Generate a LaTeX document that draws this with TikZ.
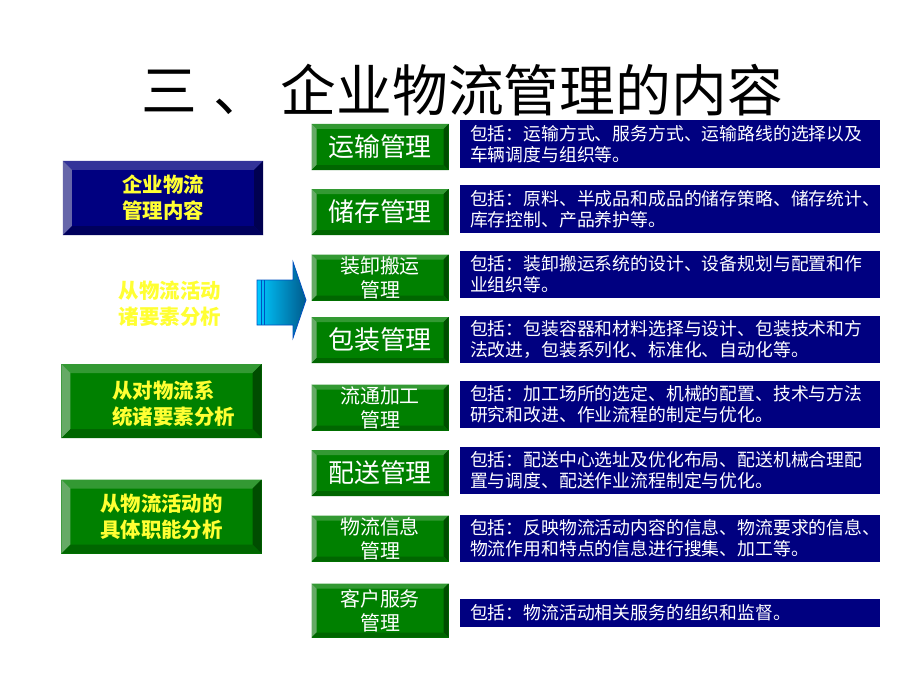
\documentclass[tikz,border=0pt]{standalone}
\usepackage{fontspec}
\newfontfamily\cjk{Noto Sans CJK SC}
\definecolor{navyface}{HTML}{000080}
\definecolor{navytop}{HTML}{333399}
\definecolor{navyleft}{HTML}{6666AA}
\definecolor{navyright}{HTML}{000050}
\definecolor{navybottom}{HTML}{00005C}
\definecolor{grnface}{HTML}{008000}
\definecolor{grntop}{HTML}{339933}
\definecolor{grnleft}{HTML}{66AA66}
\definecolor{grnright}{HTML}{004D00}
\definecolor{grnbottom}{HTML}{006600}
\definecolor{hintyellow}{HTML}{FFFF33}
\definecolor{arrowcyan}{HTML}{00C8FF}
\definecolor{arrowteal}{HTML}{005A8C}
\definecolor{arrowedge}{HTML}{0050C0}
% the four slanted faces of a bevelled button
\newcommand\bevelfaces[2]{%
  \fill[#1top] (path picture bounding box.north west) -- (path picture bounding box.north east)
    -- ([shift={(-#2,-#2)}]path picture bounding box.north east) -- ([shift={(#2,-#2)}]path picture bounding box.north west) -- cycle;
  \fill[#1left] (path picture bounding box.north west) -- (path picture bounding box.south west)
    -- ([shift={(#2,#2)}]path picture bounding box.south west) -- ([shift={(#2,-#2)}]path picture bounding box.north west) -- cycle;
  \fill[#1right] (path picture bounding box.north east) -- (path picture bounding box.south east)
    -- ([shift={(-#2,#2)}]path picture bounding box.south east) -- ([shift={(-#2,-#2)}]path picture bounding box.north east) -- cycle;
  \fill[#1bottom] (path picture bounding box.south west) -- (path picture bounding box.south east)
    -- ([shift={(-#2,#2)}]path picture bounding box.south east) -- ([shift={(#2,#2)}]path picture bounding box.south west) -- cycle;
}
\tikzset{
  bevelbox/.style 2 args={fill=#1face, path picture={\bevelfaces{#1}{#2}}, inner sep=0pt},
  sidefont/.style={text=hintyellow, font=\cjk\bfseries\fontsize{20.5}{26}\selectfont},
  sidebox/.style={bevelbox={#1}{9bp}, minimum width=200bp, minimum height=74bp,
    align=center, sidefont},
  taskbox/.style={bevelbox={grn}{5bp}, minimum width=137bp, minimum height=46bp,
    text=white, align=center, font=\cjk\fontsize{26}{30}\selectfont},
  tasktwo/.style={font=\cjk\fontsize{20}{24}\selectfont},
  notebox/.style={fill=navyface, minimum height=47bp, text width=400bp, inner xsep=10bp,
    inner ysep=0pt, text=white, align=left, font=\cjk\fontsize{17.9}{21}\selectfont}
}
\begin{document}
\begin{tikzpicture}[x=1bp,y=-1bp]
  \useasboundingbox[fill=white] (0,0) rectangle (920,690);
  % Title
  \node[font=\cjk\fontsize{56}{60}\selectfont] (title) at (462,90) {三\hspace{0.3em}、\hspace{0.2em}企业物流管理的内容};
  % Left column
  \node[sidebox=navy] (core) at (163,198) {企业物流\\管理内容};
  \node[sidefont, align=center] (elem) at (170,304) {从物流活动\\诸要素分析};
  \node[sidebox=grn] (sys) at (161.5,401) {};
  \node[sidefont, align=left, anchor=west] (systext) at (109,404) {从对物流系\\统诸要素分析};
  \node[sidebox=grn] (func) at (161.5,516.5) {从物流活动的\\具体职能分析};
  % Arrow
  \shadedraw[left color=arrowcyan, right color=arrowteal, draw=arrowedge, line width=0.8bp]
    (257,280) -- (293,280) -- (293,262) -- (306,300) -- (293,338) -- (293,325) -- (257,325) -- cycle;
  \draw[arrowedge, line width=1bp] (261,280) -- (261,325);
  \draw[arrowedge, line width=1bp] (264.5,280) -- (264.5,325);
  % Task buttons
  \node[taskbox] (transport) at (380,147) {运输管理};
  \node[taskbox] (storage) at (380,212) {储存管理};
  \node[taskbox, tasktwo] (handling) at (380,277.5) {装卸搬运\\管理};
  \node[taskbox] (packing) at (380,340) {包装管理};
  \node[taskbox, tasktwo] (processing) at (380,407.5) {流通加工\\管理};
  \node[taskbox] (delivery) at (380,473) {配送管理};
  \node[taskbox, tasktwo] (info) at (380,538.5) {物流信息\\管理};
  \node[taskbox, tasktwo, minimum height=54bp] (service) at (380,610.5) {客户服务\\管理};
  % Notes
  \node[notebox] (transportnote) at (670,144) {包括：运输方式、服务方式、运输路线的选择以及\\车辆调度与组织等。};
  \node[notebox] (storagenote) at (670,209) {包括：原料、半成品和成品的储存策略、储存统计、\\库存控制、产品养护等。};
  \node[notebox] (handlingnote) at (670,274.5) {包括：装卸搬运系统的设计、设备规划与配置和作\\业组织等。};
  \node[notebox] (packingnote) at (670,339.5) {包括：包装容器和材料选择与设计、包装技术和方\\法改进，包装系列化、标准化、自动化等。};
  \node[notebox] (processingnote) at (670,404.5) {包括：加工场所的选定、机械的配置、技术与方法\\研究和改进、作业流程的制定与优化。};
  \node[notebox] (deliverynote) at (670,470.5) {包括：配送中心选址及优化布局、配送机械合理配\\置与调度、配送作业流程制定与优化。};
  \node[notebox] (infonote) at (670,538) {包括：反映物流活动内容的信息、物流要求的信息、\\物流作用和特点的信息进行搜集、加工等。};
  \node[notebox, minimum height=28bp] (servicenote) at (670,613) {包括：物流活动相关服务的组织和监督。};
\end{tikzpicture}
\end{document}
